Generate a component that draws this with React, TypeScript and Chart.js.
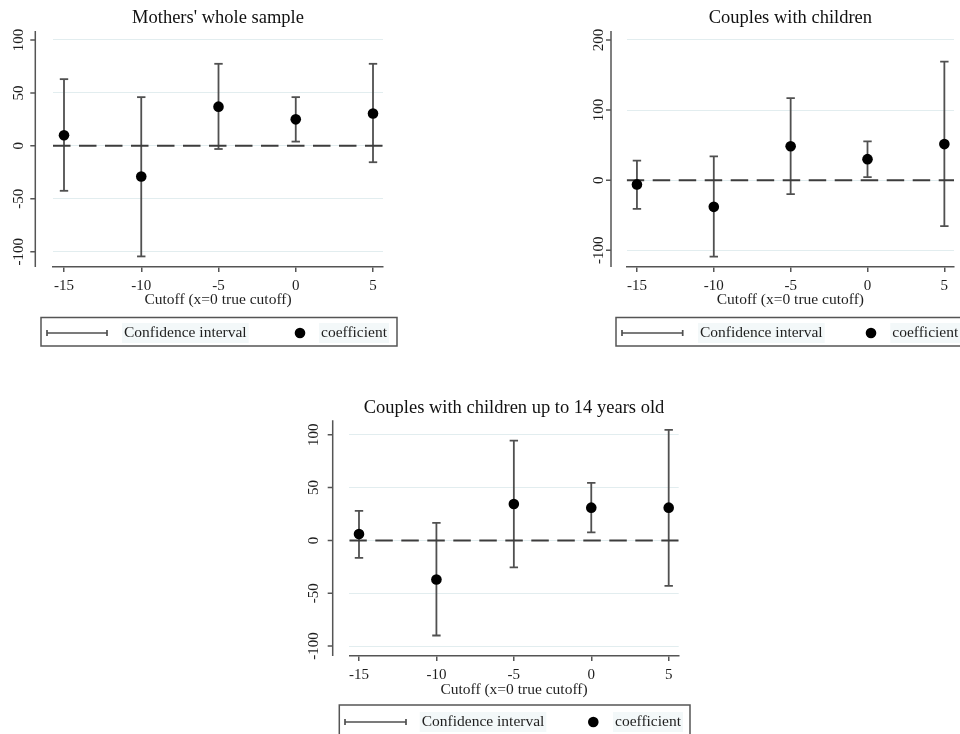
import React, { useEffect, useRef } from "react";
import { Chart, registerables } from "chart.js";

Chart.register(...registerables);

// ---- data -------------------------------------------------------------
const cutoffs = [-15, -10, -5, 0, 5];

const mothersCoef = [10, -29, 37, 25, 30.5];
const mothersLow = [-42.5, -104.5, -3, 4, -15.5];
const mothersHigh = [63, 46, 77.5, 46, 77.5];

const couplesCoef = [-6, -38, 48.5, 30, 51.5];
const couplesLow = [-41, -109, -20, 4.5, -65.5];
const couplesHigh = [28, 34, 117, 55.5, 169];

const youngCoef = [6, -37, 34.5, 31, 31];
const youngLow = [-16.5, -90, -25.5, 7.5, -43];
const youngHigh = [28, 16.5, 94.5, 54.5, 104.5];

const xTicks = [-15, -10, -5, 0, 5];
const yTicksFifty = [-100, -50, 0, 50, 100];
const yTicksHundred = [-100, 0, 100, 200];

const xTitle = "Cutoff (x=0 true cutoff)";
const legendLabels = ["Confidence interval", "coefficient"];

// ---- styling ----------------------------------------------------------
const SERIF = "'Liberation Serif', 'Times New Roman', serif";
const TEXT = "#1e1e1e";
const AXIS = "#555555";
const BAR = "#505050";
const GRID = "#e2edef";
const DASH = "#3c3c3c";

type LegendBox = {
  left: number; top: number; right: number; bottom: number; y: number;
  lineX1: number; lineX2: number; textX: number; dotX: number; coefX: number;
};

type Panel = {
  title: string;
  coef: number[]; low: number[]; high: number[];
  yTicks: number[];
  xMin: number; xMax: number; yMin: number; yMax: number;
  frame: { left: number; top: number; width: number; height: number };
  padRight: number;
  yWidth: number;
  xHeight: number;
  titleTop: number; titleBottom: number;
  xTitleBottom: number;
  labelPad: number;
  axisX: number;
  legend: LegendBox;
};

const panels: Panel[] = [
  {
    title: "Mothers' whole sample",
    coef: mothersCoef, low: mothersLow, high: mothersHigh,
    yTicks: yTicksFifty,
    xMin: -15.712, xMax: 5.647, yMin: -114.5, yMax: 108.5,
    frame: { left: 0, top: 0, width: 480, height: 360 },
    padRight: 97, yWidth: 53, xHeight: 93,
    titleTop: 7.1, titleBottom: 1.7, xTitleBottom: 50.7,
    labelPad: 20, axisX: 35.3,
    legend: { left: 41, top: 317.5, right: 397, bottom: 346, y: 333, lineX1: 47, lineX2: 107, textX: 124, dotX: 300, coefX: 321 },
  },
  {
    title: "Couples with children",
    coef: couplesCoef, low: couplesLow, high: couplesHigh,
    yTicks: yTicksHundred,
    xMin: -15.666, xMax: 5.627, yMin: -123.8, yMax: 212.8,
    frame: { left: 560, top: 0, width: 400, height: 360 },
    padRight: 4, yWidth: 66.7, xHeight: 93,
    titleTop: 7.1, titleBottom: 1.7, xTitleBottom: 50.7,
    labelPad: 13.75, axisX: 51,
    legend: { left: 56, top: 317.5, right: 440, bottom: 346, y: 333, lineX1: 62, lineX2: 122.7, textX: 140, dotX: 311, coefX: 332.3 },
  },
  {
    title: "Couples with children up to 14 years old",
    coef: youngCoef, low: youngLow, high: youngHigh,
    yTicks: yTicksFifty,
    xMin: -15.626, xMax: 5.646, yMin: -109.4, yMax: 113.6,
    frame: { left: 290, top: 390, width: 420, height: 344 },
    padRight: 31.3, yWidth: 59.3, xHeight: 78,
    titleTop: 6.7, titleBottom: 1.1, xTitleBottom: 35,
    labelPad: 21.35, axisX: 42.7,
    legend: { left: 49.3, top: 315, right: 400, bottom: 370, y: 332, lineX1: 55, lineX2: 116, textX: 131.7, dotX: 303.3, coefX: 325 },
  },
];

// Y axis drawn slightly detached from the plot region, with outward ticks.
const detachedAxisPlugin = {
  id: "detachedAxis",
  afterDraw(chart: any, _args: any, opts: any) {
    const { ctx, chartArea } = chart;
    const y = chart.scales.y;
    ctx.save();
    ctx.strokeStyle = AXIS;
    ctx.lineWidth = 1.5;
    ctx.beginPath();
    ctx.moveTo(opts.x, chartArea.top);
    ctx.lineTo(opts.x, chartArea.bottom);
    y.ticks.forEach((t: any) => {
      const py = y.getPixelForValue(t.value);
      ctx.moveTo(opts.x - 5, py);
      ctx.lineTo(opts.x, py);
    });
    ctx.stroke();
    ctx.restore();
  },
};

// Framed legend below the axis title.
const framedLegendPlugin = {
  id: "framedLegend",
  afterDraw(chart: any, _args: any, o: any) {
    const { ctx } = chart;
    ctx.save();
    ctx.font = `15.5px ${SERIF}`;
    ctx.textBaseline = "middle";
    ctx.textAlign = "left";

    const w0 = ctx.measureText(legendLabels[0]).width;
    const w1 = ctx.measureText(legendLabels[1]).width;
    ctx.fillStyle = "#f3f8f9";
    ctx.fillRect(o.textX - 2, o.y - 10, w0 + 4, 20);
    ctx.fillRect(o.coefX - 2, o.y - 10, w1 + 4, 20);

    ctx.strokeStyle = AXIS;
    ctx.lineWidth = 1.5;
    ctx.strokeRect(o.left, o.top, o.right - o.left, o.bottom - o.top);

    ctx.strokeStyle = BAR;
    ctx.lineWidth = 1.7;
    ctx.beginPath();
    ctx.moveTo(o.lineX1, o.y);
    ctx.lineTo(o.lineX2, o.y);
    ctx.moveTo(o.lineX1, o.y - 3);
    ctx.lineTo(o.lineX1, o.y + 3);
    ctx.moveTo(o.lineX2, o.y - 3);
    ctx.lineTo(o.lineX2, o.y + 3);
    ctx.stroke();

    ctx.fillStyle = "#000";
    ctx.beginPath();
    ctx.arc(o.dotX, o.y, 5.3, 0, Math.PI * 2);
    ctx.fill();

    ctx.fillStyle = TEXT;
    ctx.fillText(legendLabels[0], o.textX, o.y);
    ctx.fillText(legendLabels[1], o.coefX, o.y);
    ctx.restore();
  },
};

function buildConfig(p: Panel): any {
  const ciPoints: { x: number; y: number | null }[] = [];
  cutoffs.forEach((x, i) => {
    ciPoints.push({ x, y: p.low[i] }, { x, y: p.high[i] }, { x, y: null });
  });

  return {
    type: "scatter",
    data: {
      datasets: [
        {
          label: legendLabels[0],
          data: ciPoints,
          showLine: true,
          spanGaps: false,
          borderColor: BAR,
          borderWidth: 1.8,
          pointStyle: "line",
          pointRadius: 4.2,
          pointBorderColor: BAR,
          pointBorderWidth: 1.8,
          order: 3,
        },
        {
          label: "zero",
          data: [{ x: p.xMin, y: 0 }, { x: p.xMax, y: 0 }],
          showLine: true,
          borderColor: DASH,
          borderWidth: 2,
          borderDash: [17.5, 8.5],
          pointRadius: 0,
          order: 2,
        },
        {
          label: legendLabels[1],
          data: cutoffs.map((x, i) => ({ x, y: p.coef[i] })),
          pointRadius: 5.3,
          pointBackgroundColor: "#000",
          pointBorderColor: "#000",
          pointBorderWidth: 0,
          order: 1,
        },
      ],
    },
    plugins: [detachedAxisPlugin, framedLegendPlugin],
    options: {
      responsive: false,
      animation: false,
      devicePixelRatio: 1,
      events: [],
      layout: { padding: { left: 0, top: 0, right: p.padRight, bottom: 0 } },
      plugins: {
        legend: { display: false },
        tooltip: { enabled: false },
        title: {
          display: true,
          text: p.title,
          fullSize: false,
          color: "#111",
          font: { family: SERIF, size: 18.5, weight: "normal" },
          padding: { top: p.titleTop, bottom: p.titleBottom },
        },
        detachedAxis: { x: p.axisX },
        framedLegend: p.legend,
      },
      scales: {
        x: {
          type: "linear",
          min: p.xMin,
          max: p.xMax,
          afterBuildTicks: (s: any) => {
            s.ticks = xTicks.map((v) => ({ value: v }));
          },
          afterFit: (s: any) => {
            s.height = p.xHeight;
          },
          grid: {
            display: true,
            drawOnChartArea: false,
            drawTicks: true,
            tickLength: 5,
            color: AXIS,
            lineWidth: 1.5,
          },
          border: { display: true, color: AXIS, width: 1.5 },
          ticks: {
            padding: 5.5,
            color: TEXT,
            autoSkip: false,
            minRotation: 0,
            maxRotation: 0,
            font: { family: SERIF, size: 15 },
            callback: (v: any) => String(v),
          },
          title: {
            display: true,
            text: xTitle,
            color: TEXT,
            font: { family: SERIF, size: 15.5 },
            padding: { top: 0, bottom: p.xTitleBottom },
          },
        },
        y: {
          type: "linear",
          min: p.yMin,
          max: p.yMax,
          afterBuildTicks: (s: any) => {
            s.ticks = p.yTicks.map((v) => ({ value: v }));
          },
          afterFit: (s: any) => {
            s.width = p.yWidth;
          },
          grid: {
            display: true,
            drawOnChartArea: true,
            drawTicks: false,
            color: GRID,
            lineWidth: 1,
          },
          border: { display: false },
          ticks: {
            padding: p.labelPad,
            crossAlign: "center",
            minRotation: 90,
            maxRotation: 90,
            autoSkip: false,
            color: TEXT,
            font: { family: SERIF, size: 15 },
            callback: (v: any) => String(v),
          },
        },
      },
    },
  };
}

function CoefPanel({ panel }: { panel: Panel }) {
  const ref = useRef<HTMLCanvasElement>(null);
  useEffect(() => {
    if (!ref.current) return;
    const chart = new Chart(ref.current, buildConfig(panel));
    return () => chart.destroy();
  }, [panel]);
  const f = panel.frame;
  return (
    <canvas
      ref={ref}
      width={f.width}
      height={f.height}
      style={{ position: "absolute", left: f.left, top: f.top, width: f.width, height: f.height }}
    />
  );
}

export default function App() {
  return (
    <div
      style={{
        position: "absolute",
        left: 0,
        top: 0,
        width: 960,
        height: 734,
        overflow: "hidden",
        background: "#ffffff",
      }}
    >
      {panels.map((p) => (
        <CoefPanel key={p.title} panel={p} />
      ))}
    </div>
  );
}
